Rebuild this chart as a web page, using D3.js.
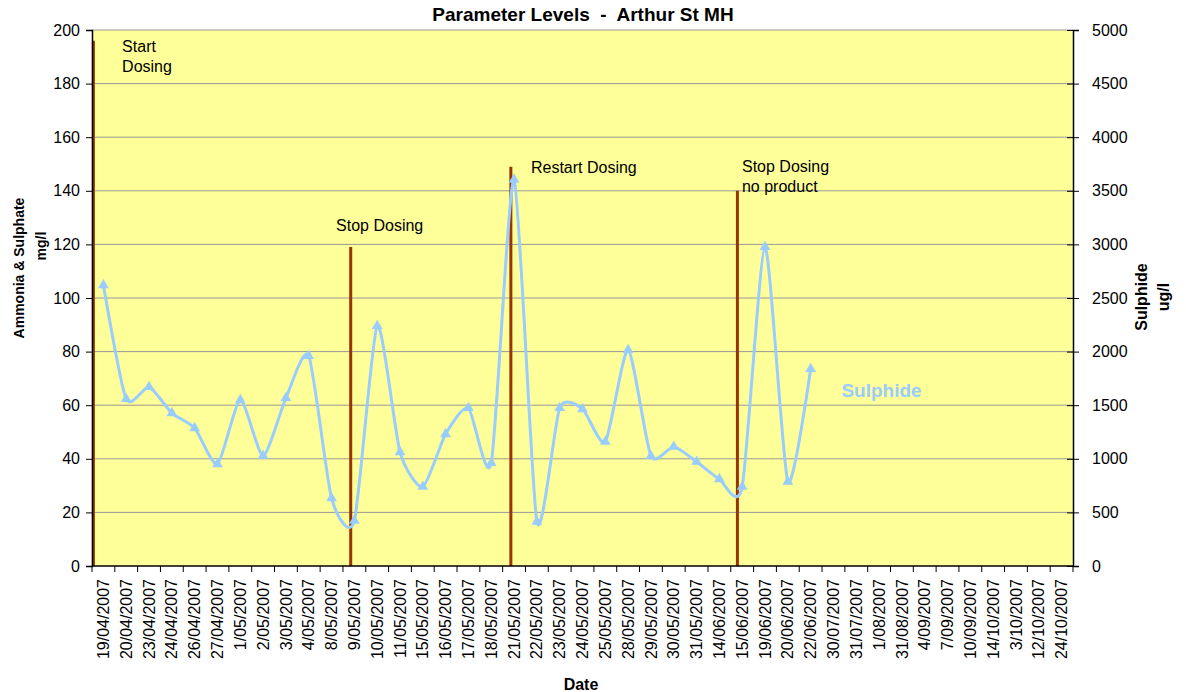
<!DOCTYPE html>
<html><head><meta charset="utf-8">
<script src="https://cdn.jsdelivr.net/npm/d3@7"></script>
<style>body{margin:0;background:#fff} text{font-family:Arial,"Liberation Sans",sans-serif;fill:#000}</style>
</head><body><svg id="c" width="1186" height="692"></svg>
<script>
const categories = ["19/04/2007","20/04/2007","23/04/2007","24/04/2007","26/04/2007","27/04/2007","1/05/2007","2/05/2007","3/05/2007","4/05/2007","8/05/2007","9/05/2007","10/05/2007","11/05/2007","15/05/2007","16/05/2007","17/05/2007","18/05/2007","21/05/2007","22/05/2007","23/05/2007","24/05/2007","25/05/2007","28/05/2007","29/05/2007","30/05/2007","31/05/2007","14/06/2007","15/06/2007","19/06/2007","20/06/2007","22/06/2007","30/07/2007","31/07/2007","1/08/2007","31/08/2007","4/09/2007","7/09/2007","10/09/2007","14/10/2007","3/10/2007","12/10/2007","24/10/2007"];
const sulphide = [2620,1558,1670,1427,1287,951,1548,1029,1567,1960,634,423,2239,1063,740,1231,1474,961,3605,413,1474,1464,1159,2015,1026,1113,973,811,740,2976,787,1838];
const leftTicks = [0,20,40,60,80,100,120,140,160,180,200];
const rightTicks = [0,500,1000,1500,2000,2500,3000,3500,4000,4500,5000];
const eventIndex = [0.06, 11.34, 18.36, 28.29];
const eventLevel = [196, 119, 149, 140];
const eventText = [["Start","Dosing"],["Stop Dosing"],["Restart Dosing"],["Stop Dosing","no product"]];
const eventTextIndex = [1.32, 10.7, 19.24, 28.49];
const eventTextLevel = [191.8, 125, 146.8, 147];

const svg = d3.select("#c");
const L = 92, R = 1073, T = 30, B = 566;
const x = d3.scaleBand().domain(categories).range([L, R]).padding(0);
const xi = d3.scaleLinear().domain([0, categories.length]).range([L, R]);
const yL = d3.scaleLinear().domain([0, 200]).range([B, T]);
const yR = d3.scaleLinear().domain([0, 5000]).range([B, T]);

svg.append("rect").attr("x", L).attr("y", T).attr("width", R - L).attr("height", B - T).attr("fill", "#FFFF99");
svg.append("g").selectAll("line").data(leftTicks.filter(d => d > 0)).join("line")
  .attr("x1", L).attr("x2", R).attr("y1", d => yL(d)).attr("y2", d => yL(d))
  .attr("stroke", "#999").attr("stroke-width", 1);

// event lines
svg.append("g").selectAll("line").data(eventIndex).join("line")
  .attr("x1", d => xi(d)).attr("x2", d => xi(d))
  .attr("y1", B).attr("y2", (d, i) => yL(eventLevel[i]))
  .attr("stroke", "#993300").attr("stroke-width", 3);

// event texts
eventText.forEach((lines, i) => {
  lines.forEach((t, j) => {
    svg.append("text").attr("x", xi(eventTextIndex[i])).attr("y", yL(eventTextLevel[i]) + j * 20)
      .attr("font-size", 16).text(t);
  });
});

// sulphide
const line = d3.line().x((d, i) => x(categories[i]) + x.bandwidth() / 2).y(d => yR(d)).curve(d3.curveCardinal.tension(0.35));
svg.append("path").datum(sulphide).attr("d", line).attr("fill", "none").attr("stroke", "#99CCFF").attr("stroke-width", 3);
svg.append("g").selectAll("path").data(sulphide).join("path")
  .attr("transform", (d, i) => `translate(${x(categories[i]) + x.bandwidth() / 2},${yR(d)})`)
  .attr("d", d3.symbol(d3.symbolTriangle, 50)).attr("fill", "#99CCFF");

svg.append("text").attr("x", xi(32.85)).attr("y", yR(1576)).attr("font-size", 19).attr("font-weight", "bold")
  .style("fill", "#99CCFF").text("Sulphide");

// axes
const gl = svg.append("g").attr("transform", `translate(${L},0)`).call(d3.axisLeft(yL).tickValues(leftTicks).tickSize(6).tickPadding(6));
const gr = svg.append("g").attr("transform", `translate(${R},0)`).call(d3.axisRight(yR).tickValues(rightTicks).tickFormat(d3.format("d")).tickSize(6).tickPadding(13));
gr.selectAll(".tick line").attr("x1", -6);
const gx = svg.append("g").attr("transform", `translate(0,${B})`).call(d3.axisBottom(x).tickSize(0).tickPadding(0));
[gl, gr, gx].forEach(g => {
  g.select(".domain").attr("stroke", "#000").attr("stroke-width", 1.5);
  g.selectAll("text").attr("font-size", 16).style("font-family", "Arial, 'Liberation Sans', sans-serif");
});
gx.select(".domain").attr("d", `M${L},0H${R}`);
gx.selectAll(".tick text").attr("transform", "rotate(-90)").attr("text-anchor", "end")
  .attr("x", -13).attr("y", 0).attr("dy", "0.35em");
svg.append("g").selectAll("line").data(d3.range(categories.length + 1)).join("line")
  .attr("x1", d => xi(d)).attr("x2", d => xi(d)).attr("y1", B).attr("y2", B + 6).attr("stroke", "#000");

// titles
svg.append("text").attr("x", 583).attr("y", 21).attr("text-anchor", "middle").attr("font-size", 19).attr("font-weight", "bold")
  .style("white-space", "pre").text("Parameter Levels  -  Arthur St MH");
svg.append("text").attr("x", 581).attr("y", 690).attr("text-anchor", "middle").attr("font-size", 16).attr("font-weight", "bold").text("Date");
svg.append("text").attr("transform", "translate(24,268) rotate(-90)").attr("text-anchor", "middle").attr("font-size", 14).attr("font-weight", "bold").text("Ammonia & Sulphate");
svg.append("text").attr("transform", "translate(46,246) rotate(-90)").attr("text-anchor", "middle").attr("font-size", 14).attr("font-weight", "bold").text("mg/l");
svg.append("text").attr("transform", "translate(1147,297) rotate(-90)").attr("text-anchor", "middle").attr("font-size", 16).attr("font-weight", "bold").text("Sulphide");
svg.append("text").attr("transform", "translate(1169,297) rotate(-90)").attr("text-anchor", "middle").attr("font-size", 16).attr("font-weight", "bold").text("ug/l");
</script></body></html>
